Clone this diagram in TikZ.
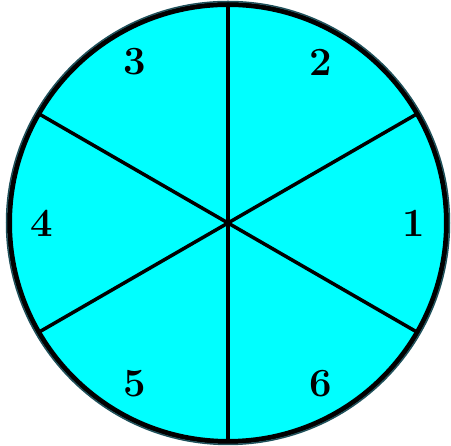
\documentclass[tikz,border=0pt]{standalone}
\usetikzlibrary{calc, positioning}
\definecolor{wheelcyan}{RGB}{0,255,255}
\definecolor{rimteal}{RGB}{30,80,90}

\begin{document}
\begin{tikzpicture}[
    x=1pt, y=1pt,
    wheel/.style = {circle, draw=black, fill=wheelcyan, line width=5pt,
                    minimum size=437pt, inner sep=0pt, outer sep=0pt},
    spoke/.style = {draw=black, line width=3.5pt},
    num/.style   = {font=\fontsize{40}{40}\selectfont\bfseries, inner sep=0pt},
]
\useasboundingbox (0,0) rectangle (451,446);

% ---- wheel with six spokes -------------------------------------------------
\node[wheel] (wheel) at (228,223) {};
\draw[rimteal, line width=1.5pt] (wheel.center) circle (221.5);
\foreach \a in {30,90,...,330}
  \draw[spoke] (wheel.center) -- (wheel.\a);

% ---- sector numbers ---------------------------------------------------------
\foreach \n in {1,...,6}
  \node[num] (n\n) at ($(wheel.center)+({(\n-1)*60}:186)$) {\n};
\end{tikzpicture}
\end{document}
